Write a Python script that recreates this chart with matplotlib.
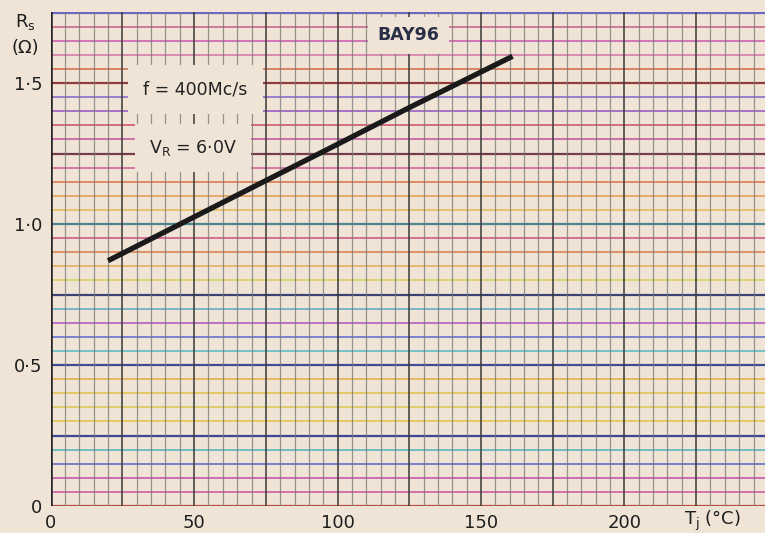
import matplotlib
matplotlib.use("Agg")
import matplotlib.pyplot as plt
import numpy as np

# ---- data ----
tj = [20, 50, 80, 100, 125, 161]
rs = [0.87, 1.025, 1.18, 1.283, 1.413, 1.595]
x_ticks = [0, 50, 100, 150, 200]
x_ticklabels = ["0", "50", "100", "150", "200"]
y_ticks = [0, 0.5, 1.0, 1.5]
y_ticklabels = ["0", "0·5", "1·0", "1·5"]

# ---- style ----
bg = "#efe4d6"
plt.rcParams['font.family'] = ['DejaVu Sans']
fig = plt.figure(figsize=(7.65, 5.33), dpi=100, facecolor=bg)
ax = fig.add_axes([50.7 / 765, 27 / 533, 1 - 50.7 / 765, (506 - 12.3) / 533])
ax.set_facecolor(bg)
ax.set_xlim(0, 249)
ax.set_ylim(0, 1.751)

# horizontal coloured grid lines every 0.05 (bottom to top)
hcolors = [
    "#b03a2e", "#c8489a", "#c23fa8", "#4b5bc4", "#3fb1bb", "#2a3590",
    "#e0c03a", "#d9c44a", "#e2bf3c", "#e2a93a", "#2d3a8e", "#48b5c2",
    "#4f5fd0", "#a848c0", "#4fa4c8", "#2a2f6a", "#d6c84e", "#e0a84a",
    "#d9743e", "#c9447c", "#3a7c8a", "#e0b846", "#e0963c", "#d86a3c",
    "#c8508a", "#6a2a3a", "#c0449a", "#c8405a", "#8a48c0", "#7a58c8",
    "#8a2a2a", "#d0603c", "#d06aa0", "#c84aa8", "#c45080", "#5a5ac0",
]
for i, c in enumerate(hcolors):
    y = i * 0.05
    major = (i % 5 == 0)
    ax.axhline(y, color=c, lw=1.6 if major else 1.2, alpha=0.9 if major else 0.85, zorder=1)

# vertical grid lines every 5, darker every 25
for xv in np.arange(0, 250, 5):
    major = (round(xv) % 25 == 0)
    if xv == 0:
        ax.axvline(xv, color="#222222", lw=1.8, zorder=2)
    elif major:
        ax.axvline(xv, color="#3a3a38", lw=1.3, alpha=0.85, zorder=2)
    else:
        ax.axvline(xv, color="#777772", lw=0.9, alpha=0.75, zorder=2)

# curve
ax.plot(tj, rs, color="#1a1a1a", lw=3.8, solid_capstyle="butt", zorder=5)

# annotation boxes
box = dict(boxstyle="square,pad=0.55", facecolor=bg, edgecolor="none")
ax.text(124.6, 1.67, "BAY96", ha="center", va="center", fontsize=12.5,
        fontweight="bold", color="#2a2f48", bbox=box, zorder=6)
ax.text(50.5, 1.478, "f = 400Mc/s", ha="center", va="center", fontsize=12.5,
        color="#222222", bbox=dict(boxstyle="square,pad=0.9", facecolor=bg, edgecolor="none"), zorder=6)
ax.text(49.5, 1.27, r"V$_\mathregular{R}$ = 6·0V", ha="center", va="center", fontsize=12.5,
        color="#222222", bbox=dict(boxstyle="square,pad=0.8", facecolor=bg, edgecolor="none"), zorder=6)

# ticks
ax.set_xticks(x_ticks)
ax.set_xticklabels(x_ticklabels)
ax.set_yticks(y_ticks)
ax.set_yticklabels(y_ticklabels)
ax.tick_params(length=0, labelsize=13, colors="#1e1e1e", pad=6)
for s in ax.spines.values():
    s.set_visible(False)

# axis labels
fig.text(25 / 765, 1 - 22 / 533, r"R$_\mathregular{s}$", ha="center", va="center",
         fontsize=13, color="#1e1e1e")
fig.text(25 / 765, 1 - 48 / 533, "(Ω)", ha="center", va="center",
         fontsize=13, color="#1e1e1e")
fig.text(712 / 765, 1 - 521 / 533, r"T$_\mathregular{j}$ (°C)", ha="center", va="center",
         fontsize=13, color="#1e1e1e")

fig.savefig("out.png", dpi=100, facecolor=bg)
